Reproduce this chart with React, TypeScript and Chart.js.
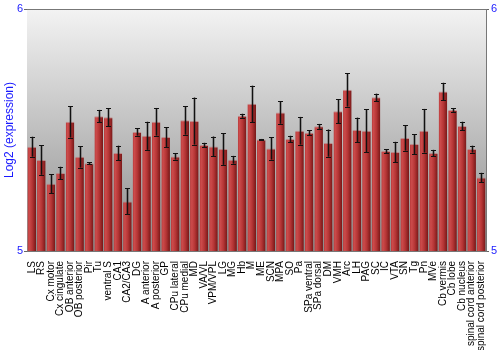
import React, { useEffect, useRef } from "react";
import { Chart, registerables } from "chart.js";

Chart.register(...registerables);

const categories: string[] = [
  "LS", "RS", "Cx motor", "Cx cingulate", "OB anterior", "OB posterior", "Pir", "Tu",
  "ventral S", "CA1", "CA2/CA3", "DG", "A anterior", "A posterior", "GP", "CPu lateral",
  "CPu medial", "MD", "VA/VL", "VPM/VPL", "LG", "MG", "Hb", "M",
  "ME", "SCN", "MPA", "SO", "Pa", "SPa ventral", "SPa dorsal", "DM",
  "VMH", "Arc", "LH", "PAG", "SC", "IC", "VTA", "SN",
  "Tg", "Pn", "MVe", "Cb vermis", "Cb lobe", "Cb nucleus", "spinal cord anterior", "spinal cord posterior",
];

const values: number[] = [
  5.431, 5.376, 5.278, 5.322, 5.534, 5.389, 5.363, 5.557,
  5.553, 5.405, 5.205, 5.492, 5.476, 5.534, 5.471, 5.391,
  5.540, 5.537, 5.438, 5.432, 5.421, 5.377, 5.559, 5.608,
  5.461, 5.424, 5.572, 5.463, 5.497, 5.489, 5.515, 5.446,
  5.577, 5.666, 5.500, 5.497, 5.635, 5.413, 5.409, 5.467,
  5.442, 5.497, 5.405, 5.659, 5.583, 5.517, 5.421, 5.304,
];

const errors: number[] = [
  0.041, 0.061, 0.039, 0.026, 0.065, 0.044, 0.004, 0.026,
  0.037, 0.030, 0.054, 0.015, 0.058, 0.057, 0.041, 0.013,
  0.059, 0.097, 0.009, 0.041, 0.065, 0.016, 0.008, 0.075,
  0.002, 0.046, 0.046, 0.013, 0.057, 0.011, 0.010, 0.056,
  0.050, 0.069, 0.051, 0.088, 0.015, 0.008, 0.042, 0.052,
  0.041, 0.090, 0.013, 0.036, 0.008, 0.017, 0.014, 0.019,
];

const yTicks: number[] = [5, 6];

const FONT = "'Liberation Sans', Arial, Helvetica, sans-serif";
const BLUE = "#1a1aff";

const backgroundPlugin = {
  id: "bgGradient",
  beforeDatasetsDraw(chart: any) {
    const { ctx, chartArea } = chart;
    const g = ctx.createLinearGradient(0, chartArea.top, 0, chartArea.bottom);
    g.addColorStop(0, "#f3f3f3");
    g.addColorStop(1, "#8c8c8c");
    ctx.save();
    ctx.fillStyle = g;
    ctx.fillRect(chartArea.left, chartArea.top, chartArea.right - chartArea.left, chartArea.bottom - chartArea.top);
    ctx.restore();
  },
  afterDraw(chart: any) {
    const { ctx, chartArea } = chart;
    ctx.save();
    ctx.strokeStyle = "#777777";
    ctx.lineWidth = 1;
    ctx.beginPath();
    ctx.moveTo(chartArea.left, Math.round(chartArea.top) + 0.5);
    ctx.lineTo(chartArea.right, Math.round(chartArea.top) + 0.5);
    ctx.stroke();
    ctx.restore();
  },
};

const errorBarPlugin = {
  id: "errorBars",
  afterDatasetsDraw(chart: any) {
    const { ctx } = chart;
    const xScale = chart.scales.x;
    const yScale = chart.scales.y;
    ctx.save();
    values.forEach((v, i) => {
      const x = Math.round(xScale.getPixelForValue(i)) + 0.5;
      const yTop = yScale.getPixelForValue(v + errors[i]);
      const yBot = yScale.getPixelForValue(v - errors[i]);
      const cap = 2.5;
      ctx.lineWidth = 3;
      ctx.strokeStyle = "rgba(0,0,0,0.25)";
      ctx.beginPath();
      ctx.moveTo(x, yTop);
      ctx.lineTo(x, yBot);
      ctx.stroke();
      ctx.lineWidth = 1;
      ctx.strokeStyle = "#111111";
      ctx.beginPath();
      ctx.moveTo(x, yTop);
      ctx.lineTo(x, yBot);
      ctx.moveTo(x - cap, Math.round(yTop) + 0.5);
      ctx.lineTo(x + cap, Math.round(yTop) + 0.5);
      ctx.moveTo(x - cap, Math.round(yBot) + 0.5);
      ctx.lineTo(x + cap, Math.round(yBot) + 0.5);
      ctx.stroke();
    });
    ctx.restore();
  },
};

export default function App() {
  const canvasRef = useRef<HTMLCanvasElement | null>(null);

  useEffect(() => {
    const canvas = canvasRef.current;
    if (!canvas) return;

    const barFill = (context: any) => {
      const chart = context.chart;
      const xScale = chart.scales && chart.scales.x;
      if (!xScale || context.dataIndex === undefined) return "#b03030";
      const cx = xScale.getPixelForValue(context.dataIndex);
      const w = (xScale.width / categories.length) * 0.9;
      if (!Number.isFinite(cx) || !Number.isFinite(w) || w <= 0) return "#b03030";
      const g = chart.ctx.createLinearGradient(cx - w / 2, 0, cx + w / 2, 0);
      g.addColorStop(0, "#b83a3a");
      g.addColorStop(0.2, "#cc4b4b");
      g.addColorStop(0.55, "#b53535");
      g.addColorStop(1, "#761717");
      return g;
    };

    const chart = new Chart(canvas, {
      type: "bar",
      data: {
        labels: categories,
        datasets: [
          {
            data: values,
            backgroundColor: barFill,
            borderColor: "rgba(190,120,120,0.7)",
            borderWidth: { top: 1, left: 0, right: 0, bottom: 0 },
            borderSkipped: "bottom",
            barPercentage: 0.9,
            categoryPercentage: 1.0,
            yAxisID: "y",
          },
        ],
      },
      options: {
        responsive: false,
        animation: false,
        devicePixelRatio: 1,
        layout: { padding: { top: 9, left: 0, right: 0, bottom: 0 } },
        plugins: {
          legend: { display: false },
          tooltip: { enabled: false },
        },
        scales: {
          x: {
            grid: { display: false },
            border: { display: true, color: "#777777" },
            ticks: {
              autoSkip: false,
              maxRotation: 90,
              minRotation: 90,
              padding: 2,
              color: "#000000",
              font: { family: FONT, size: 10 },
            },
            afterFit: (s: any) => {
              s.height = 99;
            },
          },
          y: {
            position: "left",
            min: 5,
            max: 6,
            afterBuildTicks: (s: any) => {
              s.ticks = yTicks.map((v) => ({ value: v }));
            },
            grid: { drawOnChartArea: false, drawTicks: true, tickLength: 3, color: "#666666" },
            border: { display: true, color: "#777777" },
            ticks: {
              padding: 1,
              color: BLUE,
              font: { family: FONT, size: 11 },
            },
            title: {
              display: true,
              text: "Log2 (expression)",
              color: BLUE,
              padding: { top: 2, bottom: 0 },
              font: { family: FONT, size: 12 },
            },
            afterFit: (s: any) => {
              s.width = 27;
            },
          },
          y2: {
            position: "right",
            min: 5,
            max: 6,
            afterBuildTicks: (s: any) => {
              s.ticks = yTicks.map((v) => ({ value: v }));
            },
            grid: { drawOnChartArea: false, drawTicks: true, tickLength: 3, color: "#666666" },
            border: { display: true, color: "#777777" },
            ticks: {
              padding: 2,
              color: BLUE,
              font: { family: FONT, size: 11 },
            },
            afterFit: (s: any) => {
              s.width = 14;
            },
          },
        },
      },
      plugins: [backgroundPlugin, errorBarPlugin],
    });

    return () => {
      chart.destroy();
    };
  }, []);

  return (
    <div style={{ position: "absolute", left: 0, top: 0, width: 500, height: 350, background: "#ffffff" }}>
      <canvas ref={canvasRef} width={500} height={350} style={{ width: 500, height: 350 }} />
    </div>
  );
}
